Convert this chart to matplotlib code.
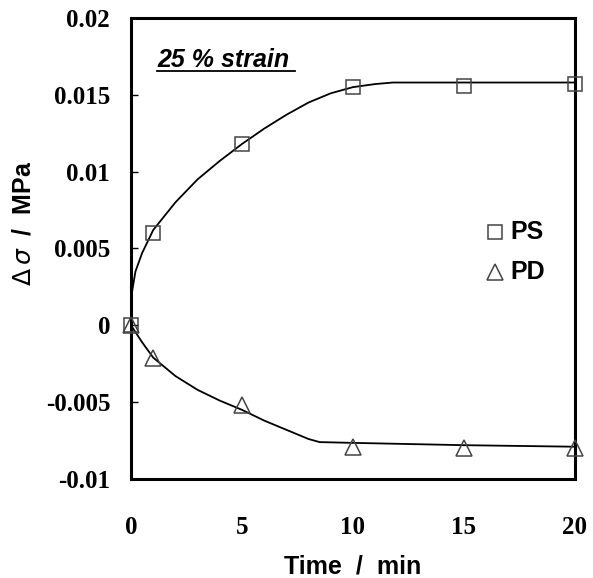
import matplotlib
matplotlib.use('Agg')
import matplotlib.pyplot as plt
from matplotlib.font_manager import FontProperties

# measured points
t_pts = [0, 1, 5, 10, 15, 20]
ps_pts = [0.0, 0.0060, 0.0118, 0.0155, 0.0156, 0.0157]
pd_pts = [0.0, -0.0021, -0.0052, -0.0079, -0.0080, -0.0080]

# fitted curves
t_ps_fit = [0, 0.05, 0.2, 0.5, 1, 2, 3, 4, 5, 6, 7, 8, 9, 10, 11, 11.8, 15, 20]
ps_fit = [0.0, 0.0022, 0.0035, 0.0047, 0.0062, 0.0080, 0.0095, 0.0107, 0.0118,
          0.0128, 0.0137, 0.0145, 0.0151, 0.0155, 0.0157, 0.0158, 0.0158, 0.0158]
t_pd_fit = [0, 0.5, 1, 2, 3, 4, 5, 6, 7, 8, 8.5, 10, 15, 20]
pd_fit = [0.0, -0.0011, -0.0021, -0.0033, -0.0042, -0.0049, -0.0055, -0.0062,
          -0.0068, -0.0074, -0.0076, -0.00765, -0.0078, -0.0079]

x_ticks = [0, 5, 10, 15, 20]
y_ticks = [-0.01, -0.005, 0, 0.005, 0.01, 0.015, 0.02]
y_ticklabels = ['-0.01', '-0.005', '0', '0.005', '0.01', '0.015', '0.02']

fig = plt.figure(figsize=(5.93, 5.78), dpi=100)
ax = fig.add_axes([0.2209, 0.1713, 0.7487, 0.7976])

ax.plot(t_ps_fit, ps_fit, color='black', lw=1.3, zorder=3)
ax.plot(t_pd_fit, pd_fit, color='black', lw=1.3, zorder=3)
ax.plot(t_pts, ps_pts, ls='none', marker='s', ms=10, mfc='none', mec='#444444',
        mew=1.1, clip_on=False, zorder=4)
ax.plot(t_pts, pd_pts, ls='none', marker='^', ms=11, mfc='none', mec='#444444',
        mew=1.1, clip_on=False, zorder=4)

ax.set_xlim(0, 20)
ax.set_ylim(-0.01, 0.02)
ax.set_xticks(x_ticks)
ax.set_xticklabels([str(v) for v in x_ticks])
ax.set_yticks(y_ticks)
ax.set_yticklabels(y_ticklabels)

serif = FontProperties(family='Liberation Serif', weight='bold', size=18)
for lab in ax.get_xticklabels() + ax.get_yticklabels():
    lab.set_fontproperties(serif)
ax.tick_params(axis='x', length=0, pad=27)
ax.tick_params(axis='y', direction='in', length=5, width=1, pad=15)

for sp in ax.spines.values():
    sp.set_linewidth(2.2)

sans = 'Liberation Sans'
ax.set_xlabel('Time  /  min', fontsize=18, fontweight='bold', family=sans)
ax.xaxis.set_label_coords(0.5, -0.163)
ax.set_ylabel(r'$\Delta\,\sigma$  /  MPa', fontsize=18, fontweight='bold', family=sans)
ax.yaxis.set_label_coords(-0.215, 0.555)

ax.text(0.059, 0.909, '25 % strain', transform=ax.transAxes, fontsize=18,
        fontweight='bold', style='italic', family=sans, ha='left', va='center')
ax.plot([0.059, 0.369], [0.885, 0.885], transform=ax.transAxes, color='black', lw=1.3)

# legend
ax.plot([0.82], [0.536], transform=ax.transAxes, marker='s', ms=10, mfc='none',
        mec='#444444', mew=1.1, ls='none')
ax.text(0.854, 0.536, 'PS', transform=ax.transAxes, fontsize=18, fontweight='bold',
        family=sans, va='center')
ax.plot([0.82], [0.449], transform=ax.transAxes, marker='^', ms=12, mfc='none',
        mec='#444444', mew=1.1, ls='none')
ax.text(0.854, 0.449, 'PD', transform=ax.transAxes, fontsize=18, fontweight='bold',
        family=sans, va='center')

fig.savefig('out.png', dpi=100)
